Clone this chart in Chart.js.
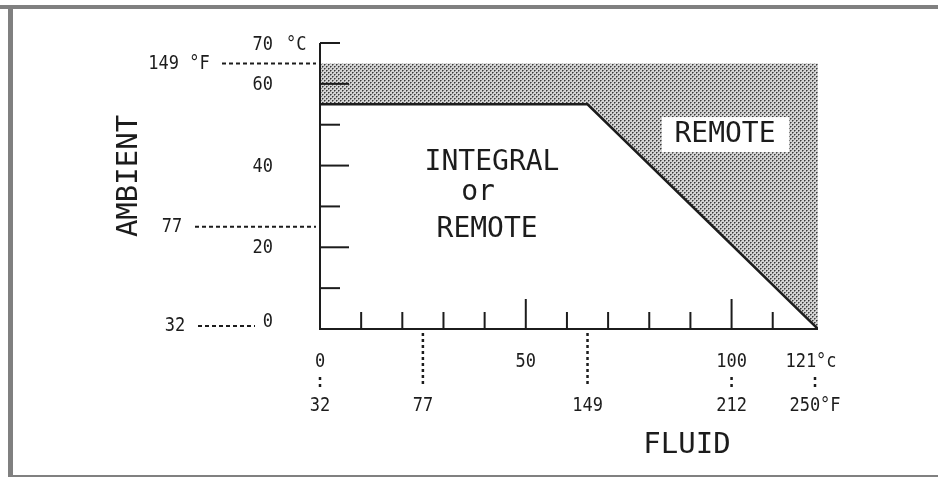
<!DOCTYPE html>
<html>
<head>
<meta charset="utf-8">
<script src="https://cdn.jsdelivr.net/npm/chart.js@4.4.1/dist/chart.umd.min.js"></script>
<style>
  body { margin: 0; background: #fff; }
  #wrap { width: 938px; height: 477px; }
</style>
</head>
<body>
<div id="wrap"><canvas id="myChart" width="938" height="477"></canvas></div>
<script>
// boundary between the two zones (deg C)
const fluidC = [0, 65, 121];
const ambientC = [55, 55, 0];
const ambientLimitC = 65;   // 149 F
const fluidMaxC = 121;      // 250 F
const ambientMaxC = 70;

// ticks and labels
const yTicks = [10, 20, 30, 40, 50, 60, 70];
const yLongTicks = [20, 40, 60];
const yLabelVals = [0, 20, 40, 60];
const xTicks = [10, 20, 30, 40, 50, 60, 70, 80, 90, 100, 110];
const xLongTicks = [50, 100];
const xLabelVals = [0, 50, 100, 121];
const xLabelText = ['0', '50', '100', '121°c'];
const xFahrText = ['32', '77', '149', '212', '250°F'];
const xFahrAt = [0, 25, 65, 100, 121];
const yFahrText = ['149 °F', '77', '32'];
const yFahrAt = [65, 25, 0];

const INK = '#1c1c1c';
const FONT = '"DejaVu Sans Mono", monospace';

// stipple pattern for the remote zone
function stipple() {
    const t = document.createElement('canvas');
    t.width = 4; t.height = 4;
    const c = t.getContext('2d');
    c.fillStyle = '#d4d4d4';
    c.fillRect(0, 0, 4, 4);
    c.fillStyle = '#3a3a3a';
    c.fillRect(0, 0, 1, 1);
    c.fillRect(2, 2, 1, 1);
    c.fillStyle = '#808080';
    c.fillRect(1, 0, 1, 1);
    c.fillRect(3, 2, 1, 1);
    c.fillRect(0, 1, 1, 1);
    c.fillRect(2, 3, 1, 1);
    return c.createPattern(t, 'repeat');
}

function txt(ctx, s, x, y, size, align, sx) {
    ctx.save();
    ctx.font = size + 'px ' + FONT;
    ctx.fillStyle = INK;
    ctx.translate(x, y);
    ctx.scale(sx || 1, 1);
    ctx.textAlign = align || 'center';
    ctx.textBaseline = 'middle';
    ctx.fillText(s, 0, 0);
    ctx.restore();
}

function line(ctx, x1, y1, x2, y2, w, dash) {
    ctx.save();
    ctx.strokeStyle = INK;
    ctx.lineWidth = w;
    ctx.setLineDash(dash || []);
    ctx.beginPath();
    ctx.moveTo(x1, y1);
    ctx.lineTo(x2, y2);
    ctx.stroke();
    ctx.restore();
}

const frame = {
    id: 'frame',
    beforeDraw(chart) {
        const ctx = chart.ctx;
        ctx.save();
        ctx.fillStyle = '#fff';
        ctx.fillRect(0, 0, 938, 477);
        ctx.fillStyle = '#808080';
        ctx.fillRect(0, 5, 938, 4);
        ctx.fillRect(8, 5, 5, 472);
        ctx.fillRect(8, 475, 930, 2);
        ctx.restore();
    }
};

const axesPlugin = {
    id: 'axesPlugin',
    afterDatasetsDraw(chart) {
        const ctx = chart.ctx;
        const xs = chart.scales.x, ys = chart.scales.y;
        const x0 = xs.getPixelForValue(0), y0 = ys.getPixelForValue(0);

        // axis lines
        line(ctx, x0, ys.getPixelForValue(ambientMaxC), x0, y0 + 1, 2);
        line(ctx, x0 - 1, y0, xs.getPixelForValue(fluidMaxC), y0, 2);

        // inward ticks
        yTicks.forEach(v => {
            const len = yLongTicks.includes(v) ? 29 : 20;
            const py = ys.getPixelForValue(v);
            line(ctx, x0, py, x0 + len, py, 2);
        });
        xTicks.forEach(v => {
            const len = xLongTicks.includes(v) ? 30 : 17;
            const px = xs.getPixelForValue(v);
            line(ctx, px, y0, px, y0 - len, 2);
        });

        // y labels (deg C)
        yLabelVals.forEach(v => {
            const py = v === 0 ? y0 - 7 : ys.getPixelForValue(v) + 1;
            txt(ctx, String(v), x0 - 47, py, 20, 'right', 0.85);
        });
        txt(ctx, '70', x0 - 47, ys.getPixelForValue(ambientMaxC) + 2, 20, 'right', 0.85);
        txt(ctx, '°C', x0 - 34, ys.getPixelForValue(ambientMaxC) + 2, 20, 'left', 0.85);

        // y refs (deg F)
        const yRefStart = [222, 195, 198];
        const yRefEnd = [x0 - 4, x0 - 4, 255];
        const yRefTextX = [179, 172, 175];
        yFahrAt.forEach((v, i) => {
            const py = v === 0 ? y0 - 3 : ys.getPixelForValue(v);
            line(ctx, yRefStart[i], py, yRefEnd[i], py, 2, [4, 3]);
            txt(ctx, yFahrText[i], yRefTextX[i], py, 20, 'center', 0.85);
        });

        // x labels (deg C)
        xLabelVals.forEach((v, i) => {
            const px = xs.getPixelForValue(v) + (v === 121 ? -7 : 0);
            txt(ctx, xLabelText[i], px, y0 + 33, 20, 'center', 0.85);
        });

        // x refs (deg F)
        xFahrAt.forEach((v, i) => {
            const px = xs.getPixelForValue(v);
            if (v === 25 || v === 65) {
                line(ctx, px, y0 + 4, px, y0 + 58, 2.5, [3, 3]);
            } else {
                line(ctx, px - (v === 121 ? 3 : 0), y0 + 48, px - (v === 121 ? 3 : 0), y0 + 60, 2.5, [3, 4]);
            }
            txt(ctx, xFahrText[i], px + (v === 121 ? -3 : 0), y0 + 77, 20, 'center', 0.85);
        });

        // zone labels
        const rx = xs.getPixelForValue(98.4), ry = ys.getPixelForValue(47.7);
        ctx.save();
        ctx.fillStyle = '#fff';
        ctx.fillRect(rx - 63, ry - 17, 127, 35);
        ctx.restore();
        txt(ctx, 'REMOTE', rx, ry + 1, 28, 'center');

        txt(ctx, 'INTEGRAL', xs.getPixelForValue(41.8), ys.getPixelForValue(40.6), 28, 'center');
        txt(ctx, 'or', xs.getPixelForValue(38.4), ys.getPixelForValue(33.3), 28, 'center');
        txt(ctx, 'REMOTE', xs.getPixelForValue(40.6), ys.getPixelForValue(24.2), 28, 'center');

        // axis titles
        txt(ctx, 'FLUID', 687, 445, 29, 'center');
        ctx.save();
        ctx.translate(129, 176);
        ctx.rotate(-Math.PI / 2);
        txt(ctx, 'AMBIENT', 0, 0, 29, 'center');
        ctx.restore();
    }
};

const boundary = fluidC.map((x, i) => ({ x: x, y: ambientC[i] }));

const config = {
    type: 'scatter',
    data: {
        datasets: [{
            label: 'Remote only',
            data: boundary,
            showLine: true,
            borderColor: INK,
            borderWidth: 2.5,
            pointRadius: 0,
            tension: 0,
            backgroundColor: stipple(),
            fill: { value: ambientLimitC }
        }]
    },
    options: {
        responsive: false,
        animation: false,
        devicePixelRatio: 1,
        layout: { padding: { left: 320, right: 120, top: 43, bottom: 148 } },
        plugins: { legend: { display: false }, tooltip: { enabled: false } },
        scales: {
            x: { type: 'linear', min: 0, max: fluidMaxC, display: false },
            y: { type: 'linear', min: 0, max: ambientMaxC, display: false }
        }
    },
    plugins: [frame, axesPlugin]
};

var myChart = new Chart(document.getElementById('myChart'), config);
</script>
</body>
</html>
